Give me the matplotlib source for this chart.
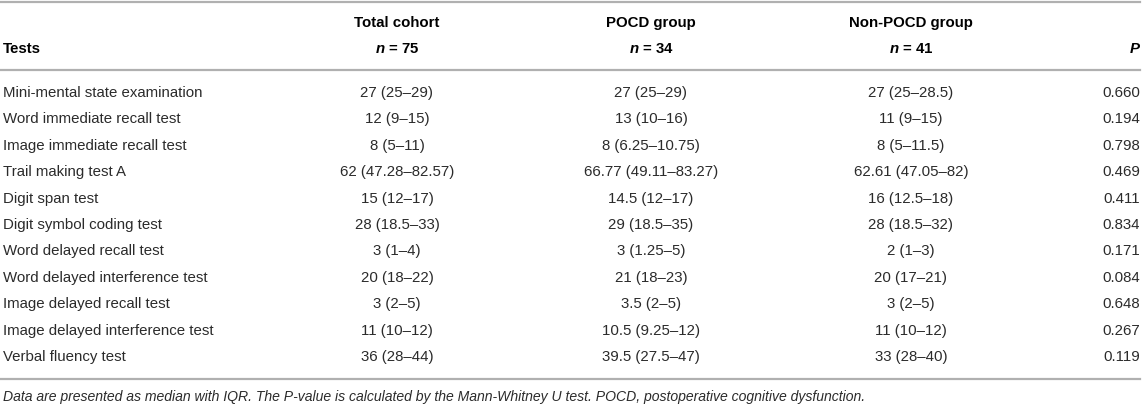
import matplotlib
matplotlib.use("Agg")
import matplotlib.pyplot as plt
from matplotlib.lines import Line2D

tests = [
    "Mini-mental state examination",
    "Word immediate recall test",
    "Image immediate recall test",
    "Trail making test A",
    "Digit span test",
    "Digit symbol coding test",
    "Word delayed recall test",
    "Word delayed interference test",
    "Image delayed recall test",
    "Image delayed interference test",
    "Verbal fluency test",
]
total_cohort = ["27 (25–29)", "12 (9–15)", "8 (5–11)", "62 (47.28–82.57)", "15 (12–17)",
                "28 (18.5–33)", "3 (1–4)", "20 (18–22)", "3 (2–5)", "11 (10–12)", "36 (28–44)"]
pocd_group = ["27 (25–29)", "13 (10–16)", "8 (6.25–10.75)", "66.77 (49.11–83.27)", "14.5 (12–17)",
              "29 (18.5–35)", "3 (1.25–5)", "21 (18–23)", "3.5 (2–5)", "10.5 (9.25–12)", "39.5 (27.5–47)"]
non_pocd_group = ["27 (25–28.5)", "11 (9–15)", "8 (5–11.5)", "62.61 (47.05–82)", "16 (12.5–18)",
                  "28 (18.5–32)", "2 (1–3)", "20 (17–21)", "3 (2–5)", "11 (10–12)", "33 (28–40)"]
p_values = ["0.660", "0.194", "0.798", "0.469", "0.411", "0.834", "0.171", "0.084", "0.648", "0.267", "0.119"]

col_headers = ["Total cohort", "POCD group", "Non-POCD group"]
col_n = ["75", "34", "41"]
footnote = ("Data are presented as median with IQR. The P-value is calculated by the Mann-Whitney U test. "
            "POCD, postoperative cognitive dysfunction.")

W, H = 1143, 406
plt.rcParams["mathtext.fontset"] = "custom"
plt.rcParams["mathtext.bfit"] = "Liberation Sans:bold:italic"
fig = plt.figure(figsize=(W / 100, H / 100), dpi=100)
fig.patch.set_facecolor("white")

FONT = "Liberation Sans"
BODY = "#2b2b2b"
FS = 10.8


def X(px):
    return px / W


def Y(py):
    return 1 - py / H


def hline(py):
    fig.add_artist(Line2D([X(0), X(1140)], [Y(py), Y(py)], color="#b0b0b0", lw=1.6))


hline(3)
hline(71)
hline(380)

col_x = [397, 651, 911]
p_x = 1140

# header
fig.text(X(3), Y(49), "Tests", ha="left", va="center", fontsize=FS, fontweight="bold",
         family=FONT, color="black")
for cx, h, n in zip(col_x, col_headers, col_n):
    fig.text(X(cx), Y(23), h, ha="center", va="center", fontsize=FS, fontweight="bold",
             family=FONT, color="black")
    fig.text(X(cx), Y(49), r"$\mathbfit{n}$" + " = " + n, ha="center", va="center", fontsize=FS,
             fontweight="bold", family=FONT, color="black")
fig.text(X(p_x), Y(49), "P", ha="right", va="center", fontsize=FS, fontweight="bold",
         fontstyle="italic", family=FONT, color="black")

row0, dy = 93, 26.4
for i, (t, a, b, c, p) in enumerate(zip(tests, total_cohort, pocd_group, non_pocd_group, p_values)):
    y = Y(row0 + i * dy)
    fig.text(X(3), y, t, ha="left", va="center", fontsize=FS, family=FONT, color=BODY)
    for cx, v in zip(col_x, (a, b, c)):
        fig.text(X(cx), y, v, ha="center", va="center", fontsize=FS, family=FONT, color=BODY)
    fig.text(X(p_x), y, p, ha="right", va="center", fontsize=FS, family=FONT, color=BODY)

fig.text(X(3), Y(397), footnote, ha="left", va="center", fontsize=10.1, fontstyle="italic",
         family=FONT, color=BODY)

fig.savefig("out.png", dpi=100, facecolor="white")
